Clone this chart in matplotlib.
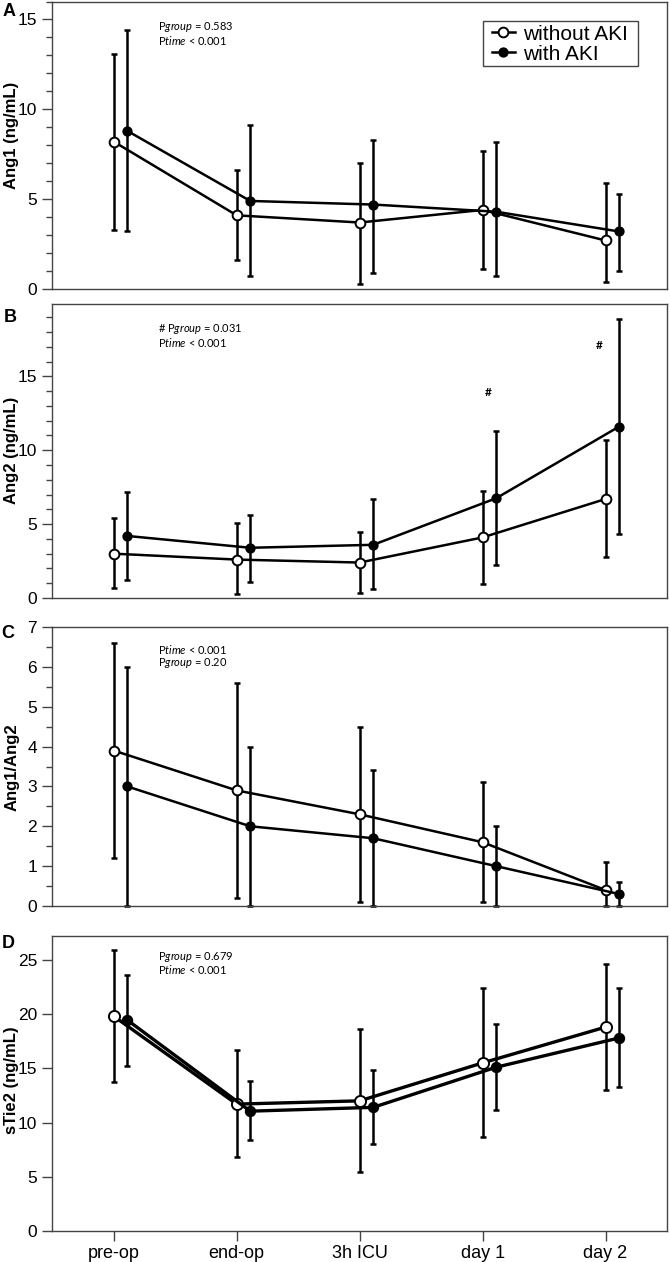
import numpy as np
import matplotlib.pyplot as plt
from matplotlib.patches import Rectangle
from matplotlib.ticker import MultipleLocator, NullLocator

plt.rcParams.update({
    'font.family': ['Liberation Sans', 'DejaVu Sans'],
    'mathtext.fontset': 'custom',
    'mathtext.rm': 'Lato',
    'mathtext.it': 'Lato:italic',
    'axes.edgecolor': '#444444',
    'axes.linewidth': 1.0,
})

timepoints = ['pre-op', 'end-op', '3h ICU', 'day 1', 'day 2']

# Ang1 (ng/mL): mean with lower / upper error bounds
ang1_no = [8.2, 4.1, 3.7, 4.4, 2.7]
ang1_no_lo = [3.3, 1.6, 0.3, 1.1, 0.4]
ang1_no_hi = [13.1, 6.6, 7.0, 7.7, 5.9]
ang1_aki = [8.8, 4.9, 4.7, 4.3, 3.2]
ang1_aki_lo = [3.2, 0.7, 0.9, 0.7, 1.0]
ang1_aki_hi = [14.4, 9.1, 8.3, 8.2, 5.3]

# Ang2 (ng/mL)
ang2_no = [3.0, 2.6, 2.4, 4.1, 6.7]
ang2_no_lo = [0.7, 0.25, 0.35, 0.95, 2.75]
ang2_no_hi = [5.4, 5.05, 4.45, 7.25, 10.7]
ang2_aki = [4.2, 3.4, 3.6, 6.75, 11.6]
ang2_aki_lo = [1.2, 1.1, 0.6, 2.2, 4.35]
ang2_aki_hi = [7.2, 5.65, 6.7, 11.3, 18.9]

# Ang1/Ang2 ratio
ratio_no = [3.9, 2.9, 2.3, 1.6, 0.4]
ratio_no_lo = [1.2, 0.2, 0.1, 0.1, 0.0]
ratio_no_hi = [6.6, 5.6, 4.5, 3.1, 1.1]
ratio_aki = [3.0, 2.0, 1.7, 1.0, 0.3]
ratio_aki_lo = [0.0, 0.0, 0.0, 0.0, 0.0]
ratio_aki_hi = [6.0, 4.0, 3.4, 2.0, 0.6]

# sTie2 (ng/mL)
tie2_no = [19.8, 11.7, 12.0, 15.5, 18.8]
tie2_no_lo = [13.7, 6.85, 5.4, 8.65, 13.0]
tie2_no_hi = [25.9, 16.7, 18.65, 22.45, 24.65]
tie2_aki = [19.45, 11.05, 11.4, 15.1, 17.8]
tie2_aki_lo = [15.25, 8.35, 8.0, 11.2, 13.25]
tie2_aki_hi = [23.65, 13.8, 14.85, 19.05, 22.45]

W, H = 670, 1262
fig = plt.figure(figsize=(W / 100, H / 100), dpi=100)


def rect(top, bottom, left=52.3, right=667):
    return [left / W, 1 - bottom / H, (right - left) / W, (bottom - top) / H]


def fpos(x, y):
    return x / W, 1 - y / H


panels = [
    dict(letter='A', ylabel='Ang1 (ng/mL)', box=(1.5, 289), ylim=(0, 16), major=5, minor=1,
         no=(ang1_no, ang1_no_lo, ang1_no_hi), aki=(ang1_aki, ang1_aki_lo, ang1_aki_hi),
         letter_pos=(9, 11), label_y=135,
         ptext=[r'P$\mathit{group}$ = 0.583', r'P$\mathit{time}$ < 0.001'], ptext_y=(27.5, 40.5)),
    dict(letter='B', ylabel='Ang2 (ng/mL)', box=(304, 598), ylim=(0, 19.9), major=5, minor=1,
         no=(ang2_no, ang2_no_lo, ang2_no_hi), aki=(ang2_aki, ang2_aki_lo, ang2_aki_hi),
         letter_pos=(10, 317), label_y=450,
         ptext=[r'# P$\mathit{group}$ = 0.031', r'P$\mathit{time}$ < 0.001'], ptext_y=(329.5, 342.5)),
    dict(letter='C', ylabel='Ang1/Ang2', box=(627, 906), ylim=(0, 7), major=1, minor=0.5,
         no=(ratio_no, ratio_no_lo, ratio_no_hi), aki=(ratio_aki, ratio_aki_lo, ratio_aki_hi),
         letter_pos=(8, 634), label_y=767,
         ptext=[r'P$\mathit{time}$ < 0.001', r'P$\mathit{group}$ = 0.20'], ptext_y=(650, 663)),
    dict(letter='D', ylabel='sTie2 (ng/mL)', box=(936, 1231), ylim=(0, 27.2), major=5, minor=None,
         no=(tie2_no, tie2_no_lo, tie2_no_hi), aki=(tie2_aki, tie2_aki_lo, tie2_aki_hi),
         letter_pos=(8, 943), label_y=1080,
         ptext=[r'P$\mathit{group}$ = 0.679', r'P$\mathit{time}$ < 0.001'], ptext_y=(957, 970)),
]

x = np.arange(1, len(timepoints) + 1)
offset = 0.11

for i, p in enumerate(panels):
    ax = fig.add_axes(rect(*p['box']))
    last = i == len(panels) - 1
    lw = 2.4 if last else 1.8
    ms_open = 8 if last else 7
    ms_fill = 6.8 if last else 6

    for (vals, lo, hi), dx, face, ms, lab in [
        (p['no'], 0.0, 'white', ms_open, 'without AKI'),
        (p['aki'], offset, 'black', ms_fill, 'with AKI'),
    ]:
        vals, lo, hi = np.array(vals), np.array(lo), np.array(hi)
        ax.errorbar(x + dx, vals, yerr=[vals - lo, hi - vals], fmt='none',
                    ecolor='black', elinewidth=1.8, capsize=2.5, capthick=1.8,
                    zorder=2, clip_on=False)
        ax.plot(x + dx, vals, '-o', color='black', lw=lw, markersize=ms,
                markerfacecolor=face, markeredgecolor='black', markeredgewidth=1.4,
                zorder=3, label=lab, clip_on=False)

    ax.set_xlim(0.5, 5.5)
    ax.set_ylim(*p['ylim'])
    ax.yaxis.set_major_locator(MultipleLocator(p['major']))
    if p['minor']:
        ax.yaxis.set_minor_locator(MultipleLocator(p['minor']))
    else:
        ax.yaxis.set_minor_locator(NullLocator())
    ax.tick_params(axis='y', which='major', direction='out', length=7, width=1,
                   color='#444444', labelsize=12.5, pad=4)
    ax.tick_params(axis='y', which='minor', direction='out', length=4, width=1,
                   color='#444444')
    if last:
        ax.set_xticks(x)
        ax.set_xticklabels(timepoints)
        ax.tick_params(axis='x', direction='out', length=7, width=1,
                       color='#444444', labelsize=13, pad=3)
    else:
        ax.set_xticks([])

    # panel letter and y label
    fig.text(*fpos(*p['letter_pos']), p['letter'], fontsize=13, fontweight='bold',
             ha='center', va='center')
    fig.text(*fpos(12, p['label_y']), p['ylabel'], fontsize=12, fontweight='bold',
             rotation=90, ha='center', va='center')

    # statistics text
    for txt, ty in zip(p['ptext'], p['ptext_y']):
        fig.text(*fpos(158, ty), txt, fontsize=8, family='Lato',
                 ha='left', va='center')

    if i == 0:
        # legend box drawn separately so its padding matches the original
        ax.add_patch(Rectangle(fpos(483, 66), 155 / W, 45 / H,
                               transform=fig.transFigure, facecolor='white',
                               edgecolor='#444444', linewidth=1.0, zorder=4,
                               clip_on=False))
        leg = ax.legend(loc='upper left', bbox_to_anchor=fpos(492, 24.5),
                        bbox_transform=fig.transFigure, fontsize=15,
                        frameon=False, borderpad=0, labelspacing=0.05,
                        handlelength=1.1, handletextpad=0.4, borderaxespad=0)
        leg.set_zorder(5)
    if i == 1:
        # significance marks
        ax.text(4.05, 13.9, '#', fontsize=8.5, fontweight='bold', family='Lato',
                ha='center', va='center')
        ax.text(4.95, 17.1, '#', fontsize=8.5, fontweight='bold', family='Lato',
                ha='center', va='center')

fig.savefig('out.png', dpi=100)
